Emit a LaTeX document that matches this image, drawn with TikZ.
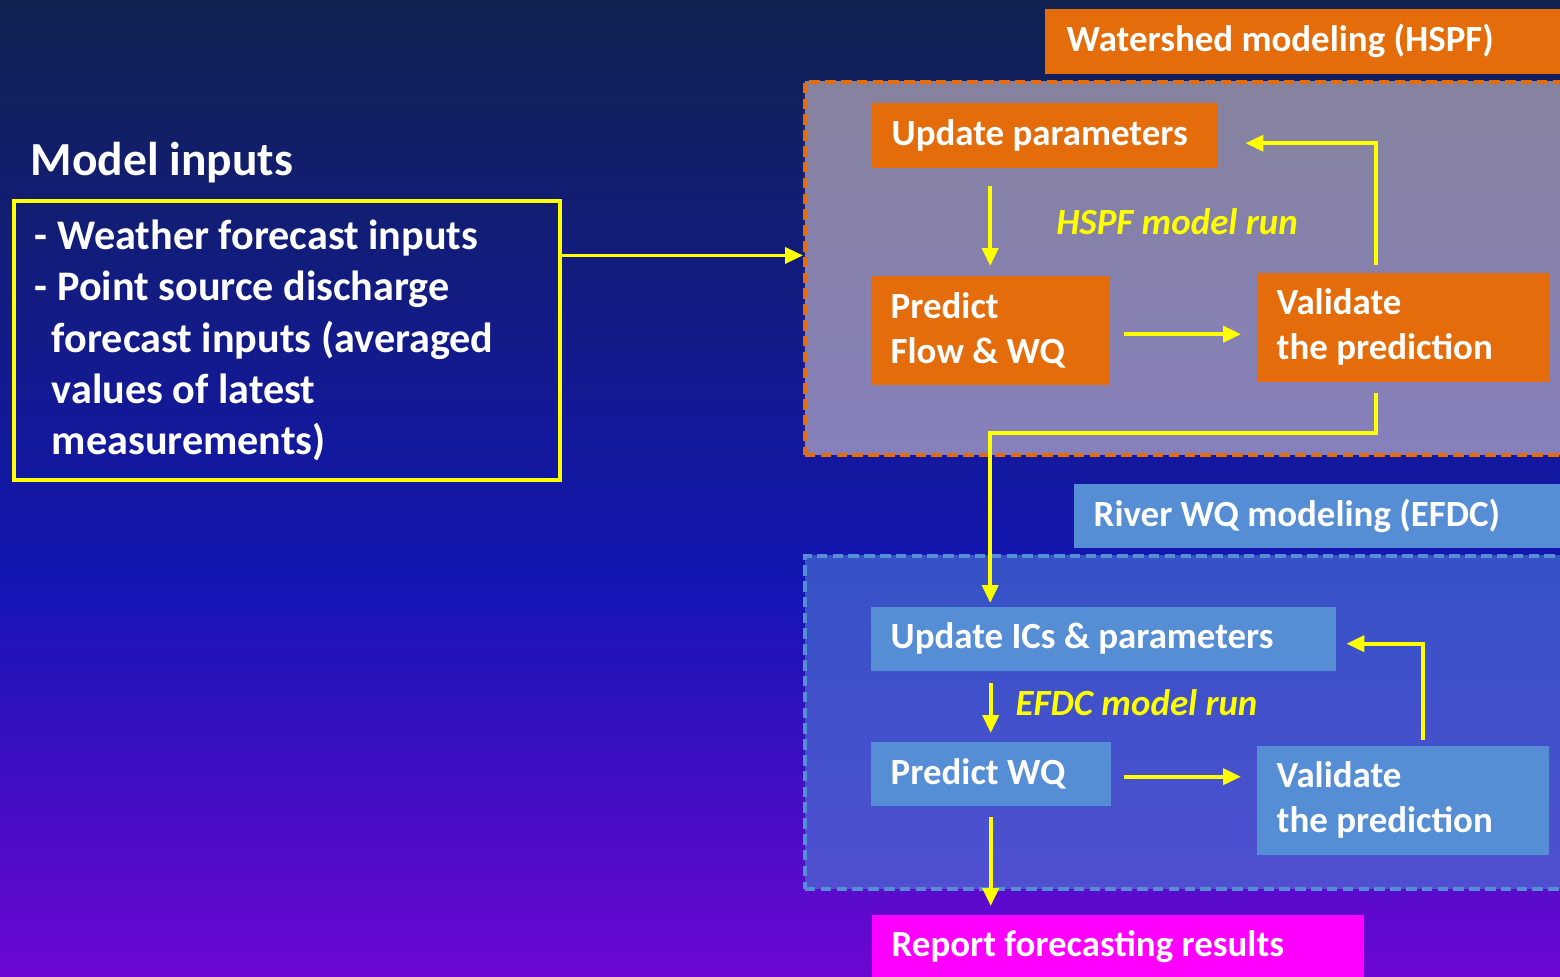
\documentclass[tikz,border=0pt]{standalone}
\usepackage{fontspec}
\setmainfont{Carlito}
\usepackage{tikz}
\usetikzlibrary{arrows.meta,positioning,calc}
\definecolor{bgtop}{HTML}{11214F}
\definecolor{bgmid}{HTML}{1416B4}
\definecolor{bgbot}{HTML}{6C07D2}
\definecolor{orangebox}{HTML}{E46C0A}
\definecolor{bluebox}{HTML}{558ED5}
\definecolor{pinkbox}{HTML}{FF00FF}
\definecolor{arrowyellow}{HTML}{FFFF00}
\definecolor{hspftop}{HTML}{86829E}
\definecolor{hspfbot}{HTML}{8680BC}
\definecolor{efdctop}{HTML}{3552C6}
\definecolor{efdcbot}{HTML}{5050D0}
\pgfdeclareverticalshading{bgshade}{100bp}{color(0bp)=(bgbot); color(25bp)=(bgbot); color(45bp)=(bgmid); color(75bp)=(bgtop); color(100bp)=(bgtop)}

\begin{document}
\begin{tikzpicture}[
  font=\bfseries\fontsize{10.5}{12.8}\selectfont,
  box/.style={anchor=north west,text=white,align=flush left,inner xsep=0.2cm,inner ysep=0pt},
  area/.style={anchor=north west,line width=1.1pt,dash pattern=on 3pt off 1.5pt,inner sep=0pt},
  runlabel/.style={text=arrowyellow,font=\bfseries\itshape\fontsize{10.5}{12.8}\selectfont},
  arr/.style={-{Triangle[length=0.18cm,width=0.16cm]},line width=1.1pt,draw=arrowyellow}
]
\useasboundingbox (0,0) rectangle (15.6,-9.76);
\clip (0,0) rectangle (15.6,-9.76);
\shade[shading=bgshade] (0,0) rectangle (15.6,-9.76);

% model inputs
\node[anchor=west,text=white,inner sep=0pt,font=\bfseries\fontsize{13.5}{16}\selectfont] (intitle) at (0.30,-1.63) {Model inputs};
\node[anchor=north west,draw=arrowyellow,line width=1.1pt,minimum width=5.46cm,minimum height=2.79cm,
  text width=5.04cm,inner xsep=0.21cm,align=flush left,text=white,font=\bfseries\fontsize{12}{14.6}\selectfont] (inbox) at (0.12,-1.99)
  {- Weather forecast inputs\\- Point source discharge\\\hspace*{0.17cm}forecast inputs (averaged\\\hspace*{0.17cm}values of latest\\\hspace*{0.17cm}measurements)};

% watershed part
\node[box,fill=orangebox,text width=4.78cm,minimum height=0.65cm,inner xsep=0.22cm] (hspftitle) at (10.44,-0.08) {Watershed modeling (HSPF)};
\node[area,draw=orangebox,top color=hspftop,bottom color=hspfbot,minimum width=7.62cm,minimum height=3.73cm] (hspfarea) at (8.03,-0.80) {};
\node[box,fill=orangebox,text width=3.06cm,minimum height=0.65cm] (updp) at (8.71,-1.02) {Update parameters};
\node[box,fill=orangebox,text width=1.99cm,minimum height=1.09cm] (predfw) at (8.70,-2.75) {Predict\\Flow \& WQ};
\node[box,fill=orangebox,text width=2.53cm,minimum height=1.09cm] (valh) at (12.56,-2.72) {Validate\\the prediction};
\node[runlabel] (hspfrun) at (11.77,-2.22) {HSPF model run};

% river part
\node[box,fill=bluebox,text width=4.47cm,minimum height=0.64cm] (efdctitle) at (10.73,-4.83) {River WQ modeling (EFDC)};
\node[area,draw=bluebox,top color=efdctop,bottom color=efdcbot,minimum width=7.62cm,minimum height=3.33cm] (efdcarea) at (8.03,-5.54) {};
\node[box,fill=bluebox,text width=4.25cm,minimum height=0.64cm] (updic) at (8.70,-6.06) {Update ICs \& parameters};
\node[box,fill=bluebox,text width=2.00cm,minimum height=0.64cm] (predwq) at (8.70,-7.41) {Predict WQ};
\node[box,fill=bluebox,text width=2.52cm,minimum height=1.09cm] (vale) at (12.56,-7.45) {Validate\\the prediction};
\node[runlabel,anchor=west,inner sep=0pt] (efdcrun) at (10.15,-7.03) {EFDC model run};
\node[box,fill=pinkbox,text width=4.52cm,minimum height=0.64cm] (report) at (8.71,-9.14) {Report forecasting results};

% connectors
\draw[arr] ([yshift=0.85cm]inbox.east) -- ([yshift=0.85cm]inbox.east -| hspfarea.west);
\draw[arr] ([yshift=-0.18cm]updp.south -| predfw.north) -- ([yshift=0.09cm]predfw.north);
\draw[arr] ([xshift=0.14cm,yshift=-0.04cm]predfw.east) -- ([xshift=-0.15cm,yshift=-0.04cm]predfw.east -| valh.west);
\draw[arr] ([xshift=1.20cm,yshift=0.07cm]valh.north west) |- ([xshift=0.27cm,yshift=-0.08cm]updp.east);
\draw[arr] ([xshift=1.20cm,yshift=-0.11cm]valh.south west) |- ([yshift=-0.48cm]predfw.south) -- ([yshift=0.03cm]predfw.south |- updic.north);
\draw[arr] ([yshift=-0.12cm]updic.south -| predwq.north) -- ([yshift=0.08cm]predwq.north);
\draw[arr] ([xshift=0.13cm,yshift=-0.03cm]predwq.east) -- ([xshift=-0.15cm,yshift=-0.03cm]predwq.east -| vale.west);
\draw[arr] ([xshift=1.67cm,yshift=0.05cm]vale.north west) |- ([xshift=0.10cm,yshift=-0.05cm]updic.east);
\draw[arr] ([yshift=-0.11cm]predwq.south) -- ([yshift=0.08cm]predwq.south |- report.north);
\end{tikzpicture}
\end{document}
